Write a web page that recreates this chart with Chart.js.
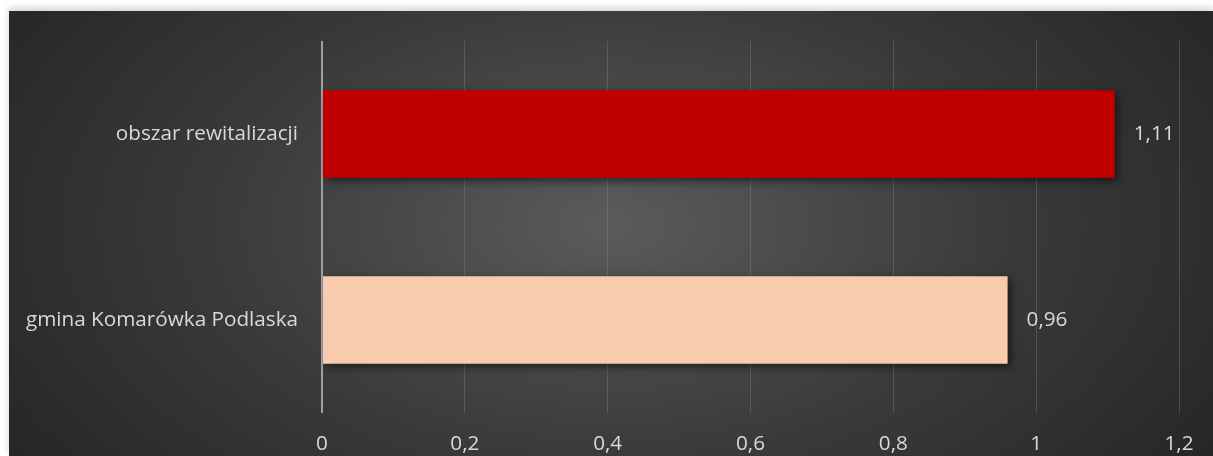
<!DOCTYPE html>
<html>
<head>
<meta charset="utf-8">
<script src="https://cdn.jsdelivr.net/npm/chart.js@4/dist/chart.umd.min.js"></script>
<style>
  html, body { margin: 0; padding: 0; background: #fff; }
  #wrap {
    position: absolute; left: 9px; top: 11px; width: 1204px; height: 445px;
    background: radial-gradient(ellipse 60% 95% at 50% 48%, #5b5b5b 0%, #3a3a3a 55%, #262626 100%);
    box-shadow: 0 -3px 7px rgba(0,0,0,0.18);
  }
</style>
</head>
<body>
<div id="wrap"><canvas id="chart" width="1204" height="445"></canvas></div>
<script>
// data
const categories = ["obszar rewitalizacji", "gmina Komarówka Podlaska"];
const values = [1.11, 0.96];
const barColors = ["#c00000", "#f8cbad"];
const xTicks = [0, 0.2, 0.4, 0.6, 0.8, 1, 1.2];

const fmt = v => String(Math.round(v * 100) / 100).replace(".", ",");
const textColor = "#d9d9d9";
const fontFam = "'Open Sans', sans-serif";
const fontSize = 20.7;

// soft shadow under the bars, like the Excel original
const barShadow = {
  id: "barShadow",
  beforeDatasetsDraw(chart) {
    const ctx = chart.ctx;
    ctx.save();
    ctx.shadowColor = "rgba(0,0,0,0.55)";
    ctx.shadowBlur = 8;
    ctx.shadowOffsetX = 3;
    ctx.shadowOffsetY = 3;
  },
  afterDatasetsDraw(chart) {
    chart.ctx.restore();
  }
};

// value labels at the end of each bar
const valueLabels = {
  id: "valueLabels",
  afterDraw(chart) {
    const ctx = chart.ctx;
    const meta = chart.getDatasetMeta(0);
    ctx.save();
    ctx.fillStyle = textColor;
    ctx.font = fontSize + "px " + fontFam;
    ctx.textAlign = "left";
    ctx.textBaseline = "middle";
    meta.data.forEach((bar, i) => {
      ctx.fillText(fmt(values[i]), bar.x + 19, bar.y);
    });
    ctx.restore();
  }
};

new Chart(document.getElementById("chart"), {
  type: "bar",
  data: {
    labels: categories,
    datasets: [{
      data: values,
      backgroundColor: barColors,
      borderWidth: 0,
      categoryPercentage: 1,
      barPercentage: 0.47
    }]
  },
  options: {
    indexAxis: "y",
    responsive: false,
    animation: false,
    layout: { padding: { top: 30, right: 34, left: 0, bottom: 0 } },
    plugins: { legend: { display: false }, tooltip: { enabled: false } },
    scales: {
      x: {
        min: 0, max: 1.2,
        afterBuildTicks: s => { s.ticks = xTicks.map(v => ({ value: v })); },
        afterFit: s => { s.height = 43; },
        border: { display: false },
        grid: {
          drawTicks: false,
          color: c => c.tick && c.tick.value === 0 ? "#a0a0a0" : "rgba(140,140,140,0.35)",
          lineWidth: c => c.tick && c.tick.value === 0 ? 2 : 1
        },
        ticks: {
          color: textColor,
          font: { family: fontFam, size: fontSize },
          padding: 19,
          callback: v => fmt(v)
        }
      },
      y: {
        afterFit: s => { s.width = 313; s.paddingTop = 0; s.paddingBottom = 0; },
        border: { display: false },
        grid: { display: false, drawTicks: false },
        ticks: {
          color: textColor,
          font: { family: fontFam, size: fontSize },
          padding: 24
        }
      }
    }
  },
  plugins: [barShadow, valueLabels]
});
</script>
</body>
</html>
